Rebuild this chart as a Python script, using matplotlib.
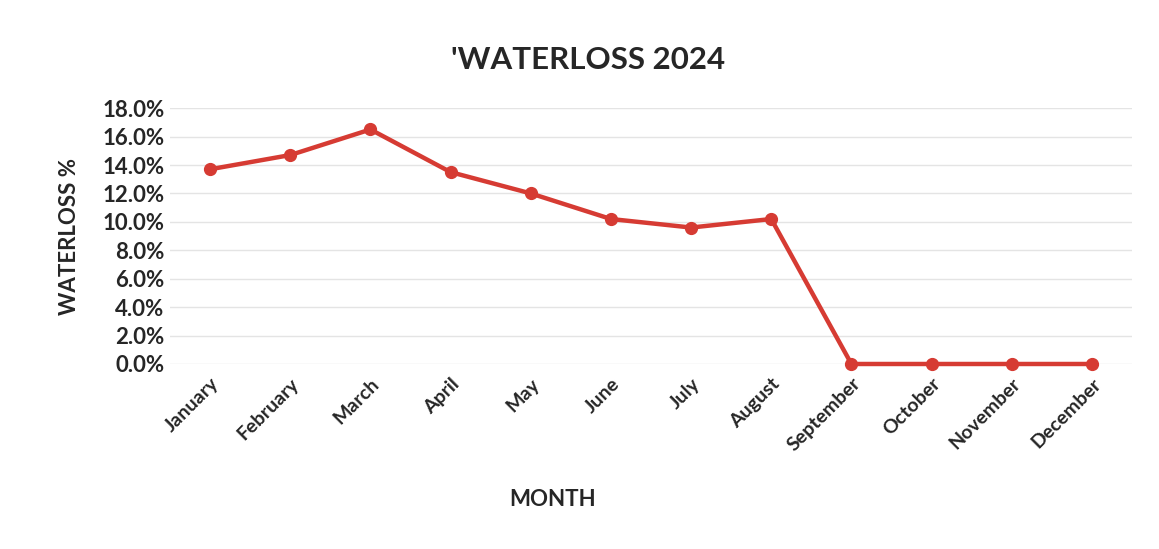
import numpy as np
import matplotlib.pyplot as plt
from matplotlib.ticker import PercentFormatter

# data
months = ['January', 'February', 'March', 'April', 'May', 'June',
          'July', 'August', 'September', 'October', 'November', 'December']
waterloss = [13.7, 14.7, 16.5, 13.5, 12.0, 10.2, 9.6, 10.2, 0.0, 0.0, 0.0, 0.0]  # percent

plt.rcParams['font.family'] = ['Lato', 'DejaVu Sans']

fig = plt.figure(figsize=(11.59, 5.49), dpi=100)
ax = fig.add_axes([0.1467, 0.337, 0.830, 0.466])

x = np.arange(len(months))
ax.plot(x, waterloss, color='#d63b33', lw=3.2, marker='o', ms=8.5,
        zorder=3, clip_on=False)

ax.set_xlim(-0.5, len(months) - 0.5)
ax.set_ylim(0, 18)
ax.set_yticks(np.arange(0, 18.1, 2))
ax.yaxis.set_major_formatter(PercentFormatter(decimals=1))
ax.set_xticks(x)
ax.set_xticklabels(months, rotation=45, ha='right', rotation_mode='anchor',
                   fontsize=14, fontweight='bold', color='#262626')
for lab in ax.get_yticklabels():
    lab.set_fontsize(16)
    lab.set_fontweight('bold')
    lab.set_color('#262626')

ax.grid(axis='y', color='#e4e4e4', lw=1)
ax.set_axisbelow(True)
for s in ax.spines.values():
    s.set_visible(False)
ax.tick_params(length=0, pad=4)
ax.tick_params(axis='x', pad=8)

ax.set_ylabel('WATERLOSS %', fontsize=16, fontweight='bold', color='#262626')
ax.set_xlabel('MONTH', fontsize=16, fontweight='bold', color='#262626')
# label spots as placed in the original (MONTH is left of centre)
ax.yaxis.set_label_coords((80 - 170) / 962, 0.5)
ax.xaxis.set_label_coords((553 - 170) / 962, (364 - 489) / 256)
fig.text(0.507, 0.89, "'WATERLOSS 2024", ha='center', va='center',
         fontsize=22.5, fontweight='bold', color='#262626')

fig.savefig('out.png', dpi=100)
